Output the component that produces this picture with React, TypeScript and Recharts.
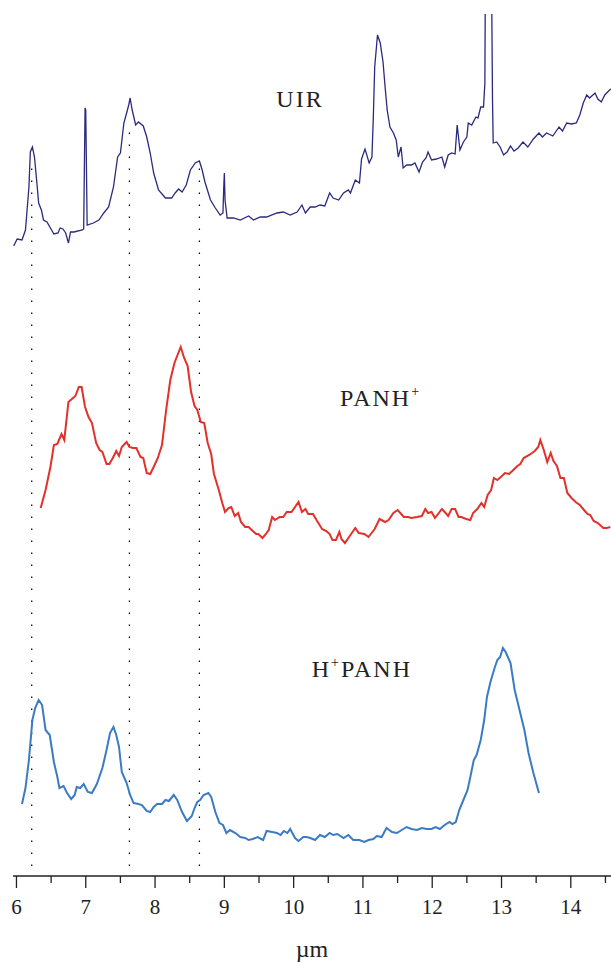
import { Label, Line, LineChart, ReferenceDot, ReferenceLine, XAxis, YAxis } from "recharts";

// Stacked IR spectra (UIR vs. PANH+ vs. H+PANH), offset on one shared flux axis.
// Each entry is [wavelength µm, flux + offset].

const UIR: [number, number][] = [
  [5.96, 63.0], [6.01, 63.7], [6.08, 63.6], [6.13, 64.6], [6.18, 68.9], [6.2, 72.4], [6.23, 72.9],
  [6.26, 71.9], [6.3, 68.9], [6.32, 67.3], [6.36, 66.6], [6.39, 65.6], [6.44, 65.4], [6.49, 64.8],
  [6.54, 64.2], [6.6, 64.3], [6.63, 64.8], [6.67, 64.7], [6.71, 64.3], [6.75, 63.3], [6.78, 64.4],
  [6.83, 64.4], [6.95, 64.6], [6.97, 64.7], [6.99, 76.8], [7.0, 76.6], [7.02, 65.1], [7.11, 65.3],
  [7.19, 65.6], [7.26, 66.3], [7.33, 66.9], [7.4, 68.9], [7.46, 71.9], [7.5, 72.3], [7.55, 75.3],
  [7.59, 76.3], [7.62, 77.1], [7.64, 77.8], [7.67, 76.6], [7.72, 75.1], [7.76, 75.4], [7.83, 75.0],
  [7.88, 73.9], [7.93, 72.3], [7.98, 70.3], [8.05, 68.6], [8.15, 67.8], [8.24, 67.8], [8.29, 68.3],
  [8.34, 68.7], [8.39, 68.4], [8.45, 69.1], [8.51, 70.6], [8.58, 71.3], [8.64, 71.5], [8.68, 70.6],
  [8.72, 69.4], [8.8, 67.6], [8.87, 66.8], [8.94, 66.1], [8.98, 66.3], [8.99, 68.6], [9.0, 70.3],
  [9.01, 67.6], [9.04, 65.8], [9.13, 65.8], [9.23, 65.6], [9.35, 66.0], [9.42, 65.6], [9.52, 65.9],
  [9.61, 65.9], [9.76, 66.3], [9.85, 66.4], [9.95, 66.1], [10.05, 66.4], [10.12, 67.1], [10.17, 66.3],
  [10.24, 66.9], [10.31, 66.9], [10.38, 67.1], [10.45, 67.0], [10.52, 68.3], [10.57, 67.8],
  [10.65, 67.6], [10.72, 68.3], [10.79, 68.6], [10.82, 68.3], [10.89, 69.6], [10.95, 69.3],
  [10.98, 71.7], [11.03, 72.7], [11.09, 71.3], [11.13, 71.9], [11.15, 75.9], [11.17, 80.9],
  [11.21, 84.1], [11.25, 83.3], [11.29, 81.4], [11.32, 78.9], [11.35, 76.6], [11.39, 74.9],
  [11.44, 74.3], [11.48, 73.6], [11.51, 71.9], [11.55, 72.9], [11.58, 70.8], [11.63, 71.1],
  [11.7, 71.1], [11.75, 71.3], [11.81, 70.4], [11.86, 71.4], [11.91, 71.8], [11.94, 72.4],
  [11.99, 71.6], [12.06, 71.7], [12.14, 71.9], [12.18, 70.9], [12.23, 72.1], [12.28, 72.3],
  [12.33, 72.2], [12.36, 75.1], [12.4, 72.6], [12.45, 73.4], [12.5, 73.9], [12.52, 75.3],
  [12.57, 75.1], [12.63, 75.9], [12.66, 75.8], [12.7, 76.9], [12.74, 76.9], [12.76, 79.3],
  [12.77, 95.0], [12.81, 100.0], [12.85, 95.0], [12.87, 77.6], [12.88, 73.3], [12.93, 73.4],
  [12.98, 72.9], [13.03, 72.1], [13.08, 72.4], [13.13, 73.0], [13.18, 72.5], [13.24, 72.8],
  [13.31, 73.4], [13.38, 72.9], [13.46, 73.7], [13.54, 74.3], [13.59, 73.9], [13.65, 74.3],
  [13.74, 74.0], [13.83, 74.9], [13.88, 74.5], [13.94, 75.3], [14.01, 75.2], [14.08, 75.3],
  [14.13, 76.1], [14.18, 77.3], [14.23, 78.1], [14.27, 77.8], [14.35, 78.3], [14.39, 77.7],
  [14.44, 77.4], [14.49, 78.1], [14.56, 78.6], [14.58, 78.7],
];

const PANH_PLUS: [number, number][] = [
  [6.35, 36.8], [6.42, 38.6], [6.49, 40.9], [6.54, 43.1], [6.59, 43.2], [6.65, 44.2], [6.69, 43.6],
  [6.75, 47.4], [6.8, 47.7], [6.85, 48.0], [6.9, 48.9], [6.94, 48.9], [6.99, 46.9], [7.04, 45.9],
  [7.09, 45.3], [7.15, 43.3], [7.2, 42.6], [7.24, 42.4], [7.3, 41.2], [7.34, 41.2], [7.39, 41.8],
  [7.44, 42.5], [7.48, 42.0], [7.52, 42.9], [7.59, 43.4], [7.63, 42.9], [7.68, 42.8], [7.73, 42.8],
  [7.79, 41.9], [7.83, 41.8], [7.88, 40.3], [7.93, 40.2], [7.98, 40.9], [8.04, 41.8], [8.1, 43.1],
  [8.16, 46.6], [8.22, 49.6], [8.28, 51.3], [8.33, 52.2], [8.37, 52.9], [8.42, 51.8], [8.47, 51.0],
  [8.52, 48.4], [8.57, 47.0], [8.61, 46.6], [8.66, 45.4], [8.71, 45.3], [8.76, 43.3], [8.81, 42.2],
  [8.85, 40.2], [8.92, 38.6], [8.97, 37.3], [9.01, 36.4], [9.06, 36.8], [9.1, 36.9], [9.15, 36.0],
  [9.2, 36.3], [9.24, 35.4], [9.3, 34.9], [9.35, 34.9], [9.41, 34.5], [9.46, 34.2], [9.49, 34.2],
  [9.55, 33.8], [9.6, 34.2], [9.64, 34.6], [9.69, 35.9], [9.73, 35.6], [9.8, 35.9], [9.85, 35.9],
  [9.9, 36.4], [9.97, 36.4], [10.02, 36.9], [10.07, 37.4], [10.12, 36.4], [10.17, 36.7],
  [10.21, 36.2], [10.28, 36.2], [10.33, 35.6], [10.41, 34.7], [10.47, 34.5], [10.52, 34.2],
  [10.56, 33.6], [10.61, 33.6], [10.66, 34.4], [10.69, 33.7], [10.74, 33.3], [10.81, 34.0],
  [10.89, 34.8], [10.94, 34.3], [11.02, 34.2], [11.08, 33.9], [11.17, 34.7], [11.24, 35.7],
  [11.32, 35.4], [11.37, 35.6], [11.44, 36.3], [11.5, 36.6], [11.54, 36.3], [11.59, 35.9],
  [11.65, 35.9], [11.7, 35.8], [11.78, 35.9], [11.85, 36.0], [11.9, 36.7], [11.94, 36.3],
  [11.99, 36.4], [12.04, 35.8], [12.14, 36.7], [12.18, 36.4], [12.23, 36.0], [12.28, 36.7],
  [12.33, 36.7], [12.38, 35.9], [12.42, 35.9], [12.49, 35.7], [12.55, 35.6], [12.59, 36.3],
  [12.65, 36.7], [12.71, 37.3], [12.75, 36.9], [12.8, 38.1], [12.85, 38.6], [12.89, 39.8],
  [12.94, 39.6], [12.99, 39.9], [13.05, 40.3], [13.11, 40.2], [13.17, 40.6], [13.23, 41.0],
  [13.27, 41.2], [13.32, 41.8], [13.4, 42.1], [13.48, 42.5], [13.53, 42.9], [13.56, 43.6],
  [13.61, 42.6], [13.66, 41.4], [13.71, 42.3], [13.75, 41.5], [13.8, 41.0], [13.85, 39.8],
  [13.9, 39.8], [13.95, 38.3], [14.01, 37.8], [14.07, 37.4], [14.13, 37.1], [14.19, 36.6],
  [14.24, 36.2], [14.28, 36.1], [14.33, 35.5], [14.39, 35.3], [14.47, 34.8], [14.52, 34.8],
  [14.57, 34.9],
];

const H_PANH: [number, number][] = [
  [6.08, 7.2], [6.13, 8.8], [6.18, 11.6], [6.23, 15.6], [6.27, 16.8], [6.32, 17.6], [6.37, 17.1],
  [6.42, 14.6], [6.48, 14.1], [6.54, 11.4], [6.59, 9.9], [6.62, 8.8], [6.68, 9.0], [6.73, 8.3],
  [6.79, 7.7], [6.84, 8.1], [6.87, 8.9], [6.92, 8.8], [6.97, 9.2], [7.03, 8.4], [7.09, 8.3],
  [7.16, 9.2], [7.24, 10.8], [7.3, 12.6], [7.35, 14.3], [7.4, 14.9], [7.44, 14.1], [7.48, 12.9],
  [7.52, 10.4], [7.59, 9.3], [7.64, 8.1], [7.69, 7.3], [7.76, 7.2], [7.81, 7.1], [7.88, 6.5],
  [7.93, 6.4], [7.98, 6.9], [8.03, 7.2], [8.1, 7.2], [8.15, 7.6], [8.2, 7.5], [8.27, 8.1],
  [8.32, 7.6], [8.39, 6.4], [8.46, 5.5], [8.53, 6.0], [8.57, 6.8], [8.61, 7.4], [8.65, 7.6],
  [8.7, 8.1], [8.77, 8.3], [8.81, 7.9], [8.87, 6.4], [8.93, 5.3], [8.98, 5.1], [9.03, 4.3],
  [9.08, 4.6], [9.16, 4.3], [9.23, 3.9], [9.3, 3.8], [9.35, 3.6], [9.41, 3.7], [9.48, 3.9],
  [9.56, 3.6], [9.61, 4.5], [9.69, 4.4], [9.76, 4.3], [9.81, 4.1], [9.86, 4.5], [9.91, 4.3],
  [9.95, 4.7], [10.02, 3.8], [10.07, 3.5], [10.14, 3.9], [10.19, 3.9], [10.24, 3.8], [10.31, 3.6],
  [10.38, 4.1], [10.45, 3.9], [10.52, 4.3], [10.57, 4.1], [10.63, 4.2], [10.72, 3.8], [10.79, 4.1],
  [10.86, 3.6], [10.95, 3.6], [11.02, 3.4], [11.08, 3.6], [11.15, 3.7], [11.2, 4.0], [11.27, 3.9],
  [11.34, 4.8], [11.42, 4.4], [11.49, 4.3], [11.56, 4.6], [11.63, 4.9], [11.7, 4.7], [11.78, 4.6],
  [11.85, 4.8], [11.92, 4.7], [11.99, 4.7], [12.05, 4.9], [12.11, 4.7], [12.18, 5.1], [12.25, 5.4],
  [12.29, 5.2], [12.34, 5.4], [12.39, 6.6], [12.45, 7.6], [12.51, 8.6], [12.55, 9.9], [12.6, 11.6],
  [12.64, 12.1], [12.7, 13.6], [12.75, 15.6], [12.79, 17.9], [12.84, 19.4], [12.9, 20.8],
  [12.94, 21.6], [12.98, 21.9], [13.02, 22.8], [13.06, 22.4], [13.13, 21.3], [13.19, 18.6],
  [13.26, 16.6], [13.33, 14.6], [13.39, 12.3], [13.46, 10.3], [13.54, 8.3],
];

// band positions marked by the dotted guides, with where each guide starts (top)
const BANDS = [6.22, 7.63, 8.64];
const BAND_TOPS = [71.2, 74.4, 71.0];

const X_TICKS = [6, 6.5, 7, 7.5, 8, 8.5, 9, 9.5, 10, 10.5, 11, 11.5, 12, 12.5, 13, 13.5, 14, 14.5];

const toRows = (pts: [number, number][]) => pts.map(([x, v]) => ({ x, v }));

const SERIF = "Liberation Serif";
const INK = "#222";

function AxisTick({ x, y, payload }: any) {
  const major = Number.isInteger(payload.value);
  return (
    <g>
      <line x1={x} x2={x} y1={y} y2={y + (major ? 12 : 7)} stroke={INK} strokeWidth={1.3} />
      {major && (
        <text x={x} y={y + 38} textAnchor="middle" fontFamily={SERIF} fontSize={21} fill={INK}>
          {payload.value}
        </text>
      )}
    </g>
  );
}

function specLabel(main: string, sup: string, supFirst: boolean) {
  return ({ viewBox }: any) => (
    <text x={viewBox.x} y={viewBox.y} fontFamily={SERIF} fontSize={24} letterSpacing={2} fill={INK}>
      {supFirst ? (
        <>
          <tspan>H</tspan>
          <tspan fontSize={14} dy={-10}>{sup}</tspan>
          <tspan dy={10}>{main}</tspan>
        </>
      ) : (
        <>
          <tspan>{main}</tspan>
          {sup && <tspan fontSize={14} dy={-10}>{sup}</tspan>}
        </>
      )}
    </text>
  );
}

export default function App() {
  return (
    <div style={{ position: "absolute", left: 0, top: 0, background: "#fff" }}>
      <LineChart width={611} height={963} margin={{ top: 14, right: 0, left: 13, bottom: 0 }}>
        <XAxis
          dataKey="x"
          type="number"
          domain={[5.95, 14.58]}
          allowDataOverflow
          ticks={X_TICKS}
          interval={0}
          tick={<AxisTick />}
          tickLine={false}
          tickSize={0}
          tickMargin={0}
          height={87}
          stroke={INK}
          strokeWidth={1.3}
        >
          <Label value="µm" position="insideBottom" offset={6} fontFamily={SERIF} fontSize={24} fill={INK} />
        </XAxis>
        <YAxis hide width={0} type="number" domain={[0, 86.2]} allowDataOverflow />

        {BANDS.map((b, i) => (
          <ReferenceLine
            key={b}
            segment={[{ x: b, y: 1 }, { x: b, y: BAND_TOPS[i] }]}
            stroke="#111"
            strokeWidth={1.3}
            strokeDasharray="1.5 10.5"
          />
        ))}

        <Line data={toRows(UIR)} dataKey="v" type="linear" stroke="#2b2a7e" strokeWidth={1.3} dot={false} isAnimationActive={false} />
        <Line data={toRows(PANH_PLUS)} dataKey="v" type="linear" stroke="#e3302a" strokeWidth={2} dot={false} isAnimationActive={false} />
        <Line data={toRows(H_PANH)} dataKey="v" type="linear" stroke="#3a7bc4" strokeWidth={2} dot={false} isAnimationActive={false} />

        <ReferenceDot x={9.75} y={76.9} r={0} label={specLabel("UIR", "", false)} />
        <ReferenceDot x={10.67} y={47.0} r={0} label={specLabel("PANH", "+", false)} />
        <ReferenceDot x={10.26} y={19.9} r={0} label={specLabel("PANH", "+", true)} />
      </LineChart>
    </div>
  );
}
